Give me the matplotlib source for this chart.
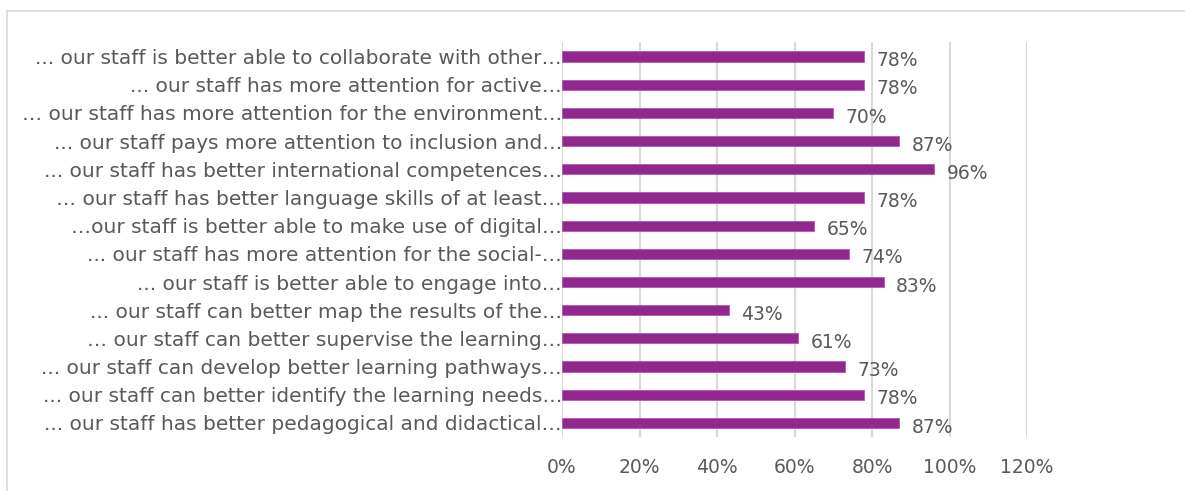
import matplotlib
matplotlib.use("Agg")
import matplotlib.pyplot as plt
from matplotlib.lines import Line2D

categories = [
    "... our staff is better able to collaborate with other…",
    "... our staff has more attention for active…",
    "… our staff has more attention for the environment…",
    "... our staff pays more attention to inclusion and…",
    "... our staff has better international competences…",
    "… our staff has better language skills of at least…",
    "…our staff is better able to make use of digital…",
    "... our staff has more attention for the social-…",
    "... our staff is better able to engage into…",
    "... our staff can better map the results of the…",
    "… our staff can better supervise the learning…",
    "... our staff can develop better learning pathways…",
    "... our staff can better identify the learning needs…",
    "... our staff has better pedagogical and didactical…",
]
values = [0.78, 0.78, 0.70, 0.87, 0.96, 0.78, 0.65, 0.74, 0.83, 0.43, 0.61, 0.73, 0.78, 0.87]
xticks = [0, 0.2, 0.4, 0.6, 0.8, 1.0, 1.2]
xticklabels = ["0%", "20%", "40%", "60%", "80%", "100%", "120%"]

BAR = "#92278F"
TEXT = "#595959"
GRID = "#D9D9D9"
FONT = "DejaVu Sans"

fig = plt.figure(figsize=(11.85, 4.91), dpi=100)
ax = fig.add_axes([0.4743, 0.110, 0.3924, 0.8035])

ypos = list(range(len(categories)))
ax.barh(ypos, values, height=0.36, color=BAR, edgecolor="#B05AAE", linewidth=0.6, zorder=3)
ax.set_ylim(len(categories) - 0.5, -0.5)
ax.set_yticks(ypos)
ax.set_yticklabels(categories, fontsize=14.5, color=TEXT, family=FONT)

ax.set_xlim(0, 1.2)
ax.set_xticks(xticks)
ax.set_xticklabels(xticklabels, fontsize=13.5, color=TEXT, family=FONT)
ax.tick_params(axis="both", length=0)
ax.tick_params(axis="x", pad=15)
ax.tick_params(axis="y", pad=0)
ax.grid(axis="x", color=GRID, linewidth=1.5, zorder=0)
for s in ax.spines.values():
    s.set_visible(False)

for y, v in zip(ypos, values):
    ax.annotate(f"{round(v * 100)}%", (v, y), xytext=(9, -3), textcoords="offset points",
                ha="left", va="center", fontsize=13.5, color=TEXT, family=FONT)

# outer chart frame (top and left edges)
W, H = 1185, 491
fig.add_artist(Line2D([7 / W, 1], [1 - 11 / H, 1 - 11 / H], color=GRID, linewidth=1.2, transform=fig.transFigure))
fig.add_artist(Line2D([7 / W, 7 / W], [0, 1 - 11 / H], color=GRID, linewidth=1.2, transform=fig.transFigure))

fig.savefig("out.png", dpi=100, facecolor="white")
